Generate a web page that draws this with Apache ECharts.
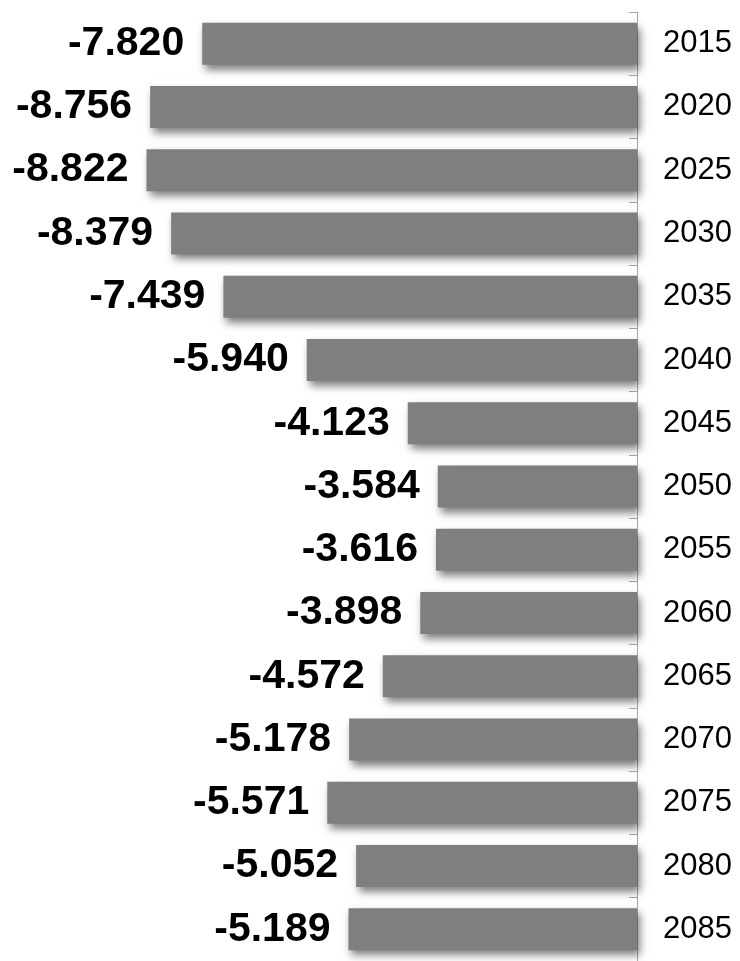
<!DOCTYPE html>
<html>
<head>
<meta charset="utf-8">
<script src="https://cdn.jsdelivr.net/npm/echarts@6/dist/echarts.min.js"></script>
<style>html,body{margin:0;padding:0;background:#fff;}#c{width:740px;height:961px;}</style>
</head>
<body>
<div id="c"></div>
<script>
var years = ['2015','2020','2025','2030','2035','2040','2045','2050','2055','2060','2065','2070','2075','2080','2085'];
var values = [-7.820,-8.756,-8.822,-8.379,-7.439,-5.940,-4.123,-3.584,-3.616,-3.898,-4.572,-5.178,-5.571,-5.052,-5.189];

var chart = echarts.init(document.getElementById('c'));
chart.setOption({
  animation: false,
  backgroundColor: '#fff',
  grid: { left: 0, top: 12, width: 637, height: 954, containLabel: false },
  xAxis: {
    type: 'value', min: -11.457, max: 0, show: false
  },
  yAxis: {
    type: 'category', data: years, inverse: true, position: 'right',
    axisLine: { show: true, lineStyle: { color: '#a6a6a6', width: 1 } },
    axisTick: { show: true, inside: true, length: 8, lineStyle: { color: '#a6a6a6' } },
    axisLabel: { color: '#000', fontSize: 31, fontFamily: 'Liberation Sans, Arial, sans-serif', margin: 26, align: 'left' },
    splitLine: { show: false }
  },
  series: [{
    type: 'bar',
    data: values,
    barWidth: 42,
    itemStyle: {
      color: '#7f7f7f',
      shadowColor: 'rgba(0,0,0,0.5)',
      shadowBlur: 8,
      shadowOffsetX: 3,
      shadowOffsetY: 5
    },
    label: {
      show: true,
      position: 'left',
      distance: 18,
      formatter: function(p){ return p.value.toFixed(3); },
      color: '#000',
      fontSize: 41,
      fontWeight: 'bold',
      fontFamily: 'Liberation Sans, Arial, sans-serif'
    }
  }]
});
</script>
</body>
</html>
